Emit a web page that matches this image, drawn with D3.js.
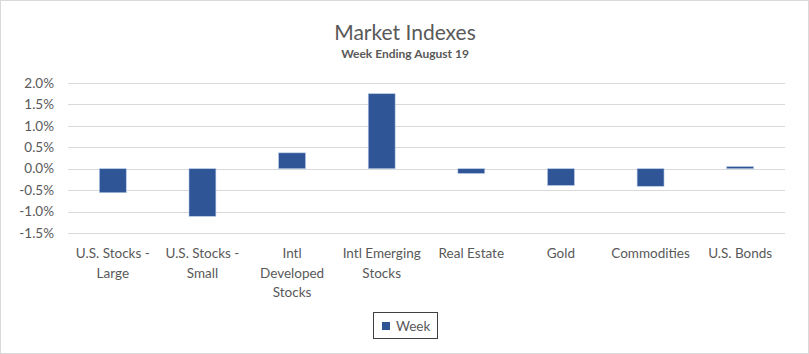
<!DOCTYPE html>
<html>
<head>
<meta charset="utf-8">
<script src="https://cdn.jsdelivr.net/npm/d3@7"></script>
<style>
  body { margin: 0; background: #fff; }
  svg { display: block; font-family: Lato, "Open Sans", sans-serif; }
</style>
</head>
<body>
<svg id="chart" width="809" height="354"></svg>
<script>
// data
const categories = [
  ['U.S. Stocks -', 'Large'],
  ['U.S. Stocks -', 'Small'],
  ['Intl', 'Developed', 'Stocks'],
  ['Intl Emerging', 'Stocks'],
  ['Real Estate'],
  ['Gold'],
  ['Commodities'],
  ['U.S. Bonds']
];
const weekValues = [-0.56, -1.11, 0.37, 1.75, -0.11, -0.39, -0.41, 0.05];
const yTicks = [-1.5, -1.0, -0.5, 0.0, 0.5, 1.0, 1.5, 2.0];
const seriesName = 'Week';

const svg = d3.select('#chart');
const W = 809, H = 354;
const plot = {left: 68, right: 785, top: 83, bottom: 233};
const barColor = '#2F5597';
const textColor = '#595959';

svg.append('rect')
  .attr('x', 0.5).attr('y', 0.5)
  .attr('width', W - 1).attr('height', H - 1)
  .attr('fill', '#fff').attr('stroke', '#d9d9d9');

const x = d3.scaleBand()
  .domain(d3.range(categories.length))
  .range([plot.left, plot.right])
  .paddingInner(0.7).paddingOuter(0.35);

const y = d3.scaleLinear()
  .domain([-1.5, 2.0])
  .range([plot.bottom, plot.top]);

// gridlines
svg.append('g')
  .selectAll('line')
  .data(yTicks)
  .join('line')
    .attr('x1', plot.left).attr('x2', plot.right)
    .attr('y1', d => Math.round(y(d)) + 0.5)
    .attr('y2', d => Math.round(y(d)) + 0.5)
    .attr('stroke', '#d9d9d9').attr('stroke-width', 1);

// y labels
svg.append('g')
  .attr('font-size', 13.5)
  .attr('fill', textColor)
  .attr('text-anchor', 'end')
  .selectAll('text')
  .data(yTicks)
  .join('text')
    .attr('x', 54)
    .attr('y', d => y(d))
    .attr('dy', '0.35em')
    .text(d => d3.format('.1f')(d).replace('−', '-') + '%');

// bars
svg.append('g')
  .selectAll('rect')
  .data(weekValues)
  .join('rect')
    .attr('x', (d, i) => x(i))
    .attr('width', x.bandwidth())
    .attr('y', d => y(Math.max(0, d)))
    .attr('height', d => Math.abs(y(d) - y(0)))
    .attr('fill', barColor)
    .attr('stroke', '#b4c7e7').attr('stroke-width', 0.6);

// category labels
svg.append('g')
  .attr('font-size', 13.5)
  .attr('fill', textColor)
  .attr('text-anchor', 'middle')
  .selectAll('text')
  .data(categories)
  .join('text')
    .attr('x', (d, i) => x(i) + x.bandwidth() / 2)
    .attr('y', 258)
    .each(function(lines) {
      d3.select(this).selectAll('tspan')
        .data(lines)
        .join('tspan')
          .attr('x', d3.select(this).attr('x'))
          .attr('dy', (l, j) => j === 0 ? 0 : 19.5)
          .text(l => l);
    });

// title
svg.append('text')
  .attr('x', 405).attr('y', 40)
  .attr('text-anchor', 'middle')
  .attr('font-size', 21)
  .attr('fill', textColor)
  .text('Market Indexes');

svg.append('text')
  .attr('x', 405).attr('y', 58)
  .attr('text-anchor', 'middle')
  .attr('font-size', 12)
  .attr('font-weight', 'bold')
  .attr('fill', textColor)
  .text('Week Ending August 19');

// legend
const lg = svg.append('g').attr('transform', 'translate(373,312)');
lg.append('rect')
  .attr('x', 0.5).attr('y', 0.5)
  .attr('width', 64).attr('height', 26)
  .attr('fill', '#fff').attr('stroke', '#404040');
lg.append('rect')
  .attr('x', 9).attr('y', 10)
  .attr('width', 8).attr('height', 8)
  .attr('fill', barColor);
lg.append('text')
  .attr('x', 23).attr('y', 14)
  .attr('dy', '0.35em')
  .attr('font-size', 13.5)
  .attr('fill', textColor)
  .text(seriesName);
</script>
</body>
</html>
